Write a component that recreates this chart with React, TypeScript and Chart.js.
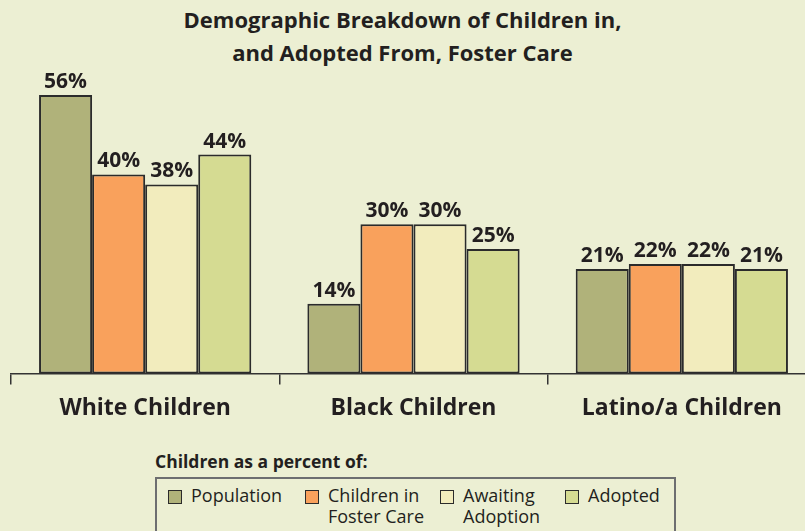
import React, { useEffect, useRef } from "react";
import { Chart, registerables } from "chart.js";

Chart.register(...registerables);

const categories = ["White Children", "Black Children", "Latino/a Children"];
const seriesNames = ["Population", "Children in\nFoster Care", "Awaiting\nAdoption", "Adopted"];
const population = [56, 14, 21];
const fosterCare = [40, 30, 22];
const awaiting = [38, 30, 22];
const adopted = [44, 25, 21];
const seriesColors = ["#B0B27A", "#F9A15C", "#F2ECBD", "#D5DB92"];
const titleLines = ["Demographic Breakdown of Children in,", "and Adopted From, Foster Care"];
const legendHeading = "Children as a percent of:";

const FONT = "'Open Sans', 'Noto Sans', sans-serif";
const BG = "#ECEFD3";
const INK = "#231F20";

const valueLabels = {
  id: "valueLabels",
  afterDatasetsDraw(chart: any) {
    const ctx = chart.ctx;
    ctx.save();
    ctx.font = `bold 21px ${FONT}`;
    ctx.fillStyle = INK;
    ctx.textAlign = "center";
    ctx.textBaseline = "alphabetic";
    chart.data.datasets.forEach((ds: any, i: number) => {
      const meta = chart.getDatasetMeta(i);
      meta.data.forEach((el: any, j: number) => {
        ctx.fillText(`${ds.data[j]}%`, el.x, el.y - 7);
      });
    });
    ctx.restore();
  },
};

export default function App() {
  const ref = useRef<HTMLCanvasElement>(null);
  useEffect(() => {
    if (!ref.current) return;
    const all = [population, fosterCare, awaiting, adopted];
    const chart = new Chart(ref.current, {
      type: "bar",
      data: {
        labels: categories,
        datasets: all.map((d, i) => ({
          label: seriesNames[i],
          data: d,
          backgroundColor: seriesColors[i],
          borderColor: "#2B2B2B",
          borderWidth: 2,
          borderSkipped: false,
          categoryPercentage: 0.791,
          barPercentage: 1,
        })),
      },
      options: {
        responsive: false,
        animation: false,
        layout: { padding: { top: 75, left: 11, right: 4, bottom: 0 } },
        plugins: { legend: { display: false }, title: { display: false }, tooltip: { enabled: false } },
        scales: {
          y: { display: false, min: 0, max: 60 },
          x: {
            border: { display: true, color: "#333", width: 1.5 },
            grid: { display: true, drawOnChartArea: false, drawTicks: true, tickLength: 11, color: "#333", lineWidth: 1.5, offset: true },
            ticks: { color: INK, font: { family: FONT, size: 23, weight: "bold" }, padding: 10 },
          },
        },
      },
      plugins: [valueLabels],
    });
    return () => chart.destroy();
  }, []);

  const swatchX = [168, 305, 440, 565];
  return (
    <div style={{ position: "fixed", left: 0, top: 0, width: 805, height: 531, overflow: "hidden", background: BG, fontFamily: FONT, color: INK }}>
      <div style={{ position: "absolute", left: 0, top: 3, width: 805, textAlign: "center", fontWeight: "bold", fontSize: 22, lineHeight: "33px" }}>
        {titleLines.map((t, i) => <div key={i}>{t}</div>)}
      </div>
      <canvas ref={ref} width={820} height={432} style={{ position: "absolute", left: 0, top: 0, width: 820, height: 432 }} />
      <div style={{ position: "absolute", left: 155, top: 449, fontWeight: "bold", fontSize: 17.5, whiteSpace: "nowrap" }}>{legendHeading}</div>
      <div style={{ position: "absolute", left: 155, top: 477, width: 521, height: 80, border: "2px solid #6D6E70", boxSizing: "border-box" }} />
      {seriesNames.map((n, i) => (
        <div key={i} style={{ position: "absolute", left: swatchX[i], top: 485, display: "flex", alignItems: "flex-start" }}>
          <div style={{ width: 14, height: 14, marginTop: 5, background: seriesColors[i], border: "1.5px solid #2B2B2B", boxSizing: "border-box" }} />
          <div style={{ marginLeft: 9, fontSize: 18, lineHeight: "21px", whiteSpace: "pre" }}>{n}</div>
        </div>
      ))}
    </div>
  );
}
